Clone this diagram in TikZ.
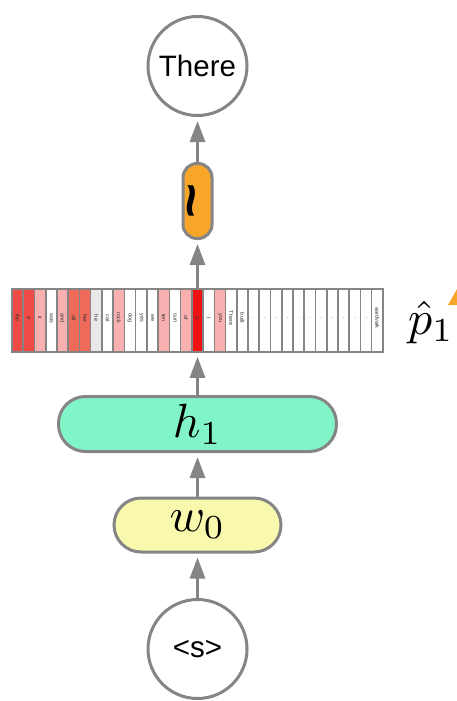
\documentclass[tikz,border=0pt]{standalone}
\usepackage{bm}
\usepackage{fontspec}
\newfontfamily\labelfont{Liberation Sans}
\usetikzlibrary{arrows.meta}
\definecolor{edge}{HTML}{858585}
\definecolor{mint}{HTML}{82F5C8}
\definecolor{cream}{HTML}{F9F9AE}
\definecolor{amber}{HTML}{F8A62A}
\definecolor{pA}{HTML}{F04A46}
\definecolor{pB}{HTML}{F06A5A}
\definecolor{pC}{HTML}{F8B0B0}
\definecolor{pD}{HTML}{E8E8E8}
\definecolor{pE}{HTML}{EE1212}

\begin{document}
\begin{tikzpicture}[x=1pt,y=-1pt,
  token/.style={circle,draw=edge,line width=3pt,fill=white,minimum size=99pt,inner sep=0pt,
    font=\labelfont\fontsize{29.5}{34}\selectfont},
  pill/.style={draw=edge,line width=3pt,inner sep=0pt},
  arr/.style={draw=edge,line width=3pt,-{Triangle[length=21pt,width=15pt]},shorten >=4pt}]
\useasboundingbox (0,0) rectangle (457,701);
% distribution over the vocabulary
\foreach \w/\c [count=\i] in {the/pA,a/pA,it/pC,was/white,and/pC,all/pB,her/pB,he/pD,
    cat/white,rock/pC,dog/white,yes/white,we/white,ten/pC,sun/white,of/pC,a/pE,I/white,
    you/pC,There/white,built/white,./white,./white,./white,./white,./white,./white,
    ./white,./white,./white,./white,./white,aardvark/white}
{
  \fill[\c] ({12+(\i-1)*11.24},289) rectangle ++(11.24,63);
  \draw[edge,line width=1.6pt] ({12+(\i-1)*11.24},289) -- ++(0,63);
  \node[rotate=-90,inner sep=0pt,text=black!80,font={\labelfont\fontsize{5.5}{6}\selectfont}] at ({17.6+(\i-1)*11.24},318) {\w};
}
\node[draw=edge,line width=1.6pt,minimum width=371pt,minimum height=63pt,inner sep=0pt] (bar) at (197.5,320.5) {};
\node[anchor=base] (phat) at (431,334) {\scalebox{4.8}{$\hat{p}_1$}};
\fill[amber] (448,305) -- (457,289) -- (457,305) -- cycle;
% network
\node[token] (there) at (197.5,66) {There};
\node[pill,fill=amber,minimum width=29pt,minimum height=75pt,rounded corners=14pt] (tilde) at (197.5,201)
  {\rotatebox{90}{\scalebox{1.5}[1.3]{\labelfont\bfseries\fontsize{40}{40}\selectfont\textasciitilde}}};
\node[pill,fill=mint,minimum width=278pt,minimum height=55pt,rounded corners=27pt] (h1) at (197.5,424) {\scalebox{4.8}{$h_1$}};
\node[pill,fill=cream,minimum width=167pt,minimum height=54pt,rounded corners=27pt] (w0) at (197.5,525) {\scalebox{4.8}{$w_0$}};
\node[token] (start) at (197.5,649) {<s>};
\draw[arr] (start) -- (w0);
\draw[arr] (w0) -- (h1);
\draw[arr] (h1) -- (bar);
\draw[arr] (bar) -- (tilde);
\draw[arr] (tilde) -- (there);
\end{tikzpicture}
\end{document}
